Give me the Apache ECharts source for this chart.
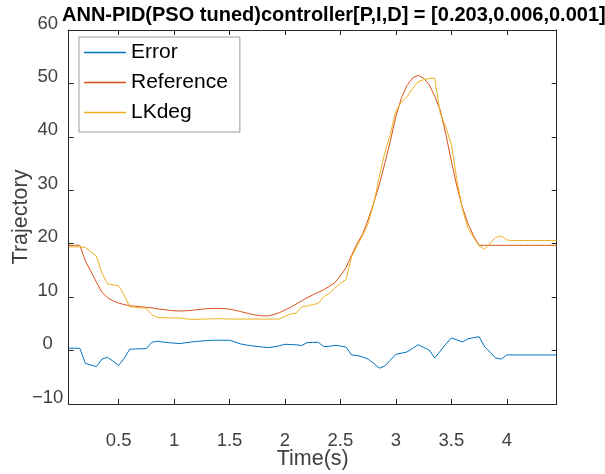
<!DOCTYPE html>
<html>
<head>
<meta charset="utf-8">
<script src="https://cdn.jsdelivr.net/npm/echarts@6/dist/echarts.min.js"></script>
<style>
  html, body { margin: 0; padding: 0; background: #fff; }
  #chart { width: 605px; height: 474px; }
</style>
</head>
<body>
<div id="chart"></div>
<script>
// Simulation time stamps (s)
var time = [
  0.05, 0.10, 0.15, 0.20, 0.25, 0.30, 0.35, 0.40, 0.45, 0.50,
  0.55, 0.60, 0.65, 0.70, 0.75, 0.80, 0.85, 0.90, 0.95, 1.00,
  1.05, 1.10, 1.15, 1.20, 1.25, 1.30, 1.35, 1.40, 1.45, 1.50,
  1.55, 1.60, 1.65, 1.70, 1.75, 1.80, 1.85, 1.90, 1.95, 2.00,
  2.05, 2.10, 2.15, 2.20, 2.25, 2.30, 2.35, 2.40, 2.45, 2.50,
  2.55, 2.60, 2.65, 2.70, 2.75, 2.80, 2.85, 2.90, 2.95, 3.00,
  3.05, 3.10, 3.15, 3.20, 3.25, 3.30, 3.35, 3.40, 3.45, 3.50,
  3.55, 3.60, 3.65, 3.70, 3.75, 3.80, 3.85, 3.90, 3.95, 4.00,
  4.05, 4.10, 4.15, 4.20, 4.25, 4.30, 4.35, 4.40, 4.45
];

// Tracking error
var errorVals = [
  0.43, 0.43, 0.43, -2.4, -2.7, -3.0, -1.6, -1.25, -2.0, -2.8,
  -1.45, 0.25, 0.3, 0.33, 0.36, 1.55, 1.74, 1.6, 1.48, 1.4,
  1.3, 1.45, 1.6, 1.7, 1.8, 1.88, 1.93, 1.93, 1.93, 1.93,
  1.6, 1.24, 1.05, 0.9, 0.78, 0.65, 0.55, 0.7, 0.9, 1.18,
  1.12, 1.08, 0.95, 1.48, 1.52, 1.55, 0.73, 0.8, 0.99, 0.85,
  0.67, -0.82, -0.92, -1.2, -1.6, -2.4, -3.3, -2.9, -1.8, -0.7,
  -0.5, -0.26, 0.4, 1.1, 0.6, 0.1, -1.4, -0.1, 1.2, 2.36,
  2.0, 1.6, 2.2, 2.4, 2.6, 0.73, -0.3, -1.4, -1.6, -0.82,
  -0.82, -0.82, -0.82, -0.82, -0.82, -0.82, -0.82, -0.82, -0.82
];

// Reference trajectory
var referenceVals = [
  19.7, 19.7, 19.7, 16.8, 14.8, 12.8, 10.9, 9.9, 9.3, 8.9,
  8.6, 8.4, 8.3, 8.2, 8.1, 8.0, 7.8, 7.7, 7.55, 7.45,
  7.4, 7.45, 7.5, 7.65, 7.75, 7.85, 7.9, 7.9, 7.85, 7.75,
  7.55, 7.3, 7.05, 6.8, 6.6, 6.5, 6.5, 6.75, 7.1, 7.6,
  8.1, 8.7, 9.3, 9.9, 10.4, 10.9, 11.4, 12.0, 12.7, 14.0,
  15.5, 17.8, 20.0, 21.8, 24.5, 27.6, 31.0, 35.0, 39.2, 43.8,
  47.3, 49.6, 51.0, 51.5, 51.0, 49.8, 47.6, 45.0, 40.5, 35.5,
  30.7, 26.8, 23.8, 21.5, 19.7, 19.7, 19.7, 19.7, 19.7, 19.7,
  19.7, 19.7, 19.7, 19.7, 19.7, 19.7, 19.7, 19.7, 19.7
];

// Controlled output (deg)
var lkdegVals = [
  19.45, 19.4, 19.4, 19.3, 18.5, 17.7, 14.5, 12.5, 12.3, 12.1,
  10.4, 8.2, 8.1, 8.0, 7.9, 6.7, 6.2, 6.15, 6.1, 6.1,
  6.1, 5.95, 5.85, 5.85, 5.9, 5.9, 5.95, 5.97, 5.95, 5.9,
  5.9, 5.9, 5.9, 5.9, 5.9, 5.9, 5.9, 5.9, 5.9, 6.4,
  6.85, 7.0, 8.2, 8.35, 8.6, 8.85, 10.1, 10.7, 11.7, 12.6,
  13.3, 17.5, 19.6, 21.5, 23.8, 27.5, 32.5, 37.0, 40.5, 44.8,
  46.5, 47.5, 49.0, 50.3, 50.7, 50.9, 51.0, 44.4, 41.8, 38.6,
  32.0, 26.5, 22.9, 21.2, 19.6, 19.0, 20.1, 21.2, 21.45, 20.7,
  20.6, 20.6, 20.6, 20.6, 20.6, 20.6, 20.6, 20.6, 20.6
];

// Tick positions
var xTicks = [0.5, 1, 1.5, 2, 2.5, 3, 3.5, 4];
var yTicks = [-10, 0, 10, 20, 30, 40, 50, 60];

var seriesNames = ['Error', 'Reference', 'LKdeg'];
var seriesColors = ['#0072BD', '#D95319', '#EDB120'];
var seriesValues = [errorVals, referenceVals, lkdegVals];

var FONT = '"Liberation Sans", Arial, Helvetica, sans-serif';
var AXIS_COLOR = '#262626';

function pairs(vals) {
  return time.map(function (t, i) { return [t, vals[i]]; });
}

function fmt(v) {
  return String(v).replace('-', '\u2212');
}

var chart = echarts.init(document.getElementById('chart'), null, { renderer: 'canvas' });

var tickCommon = { show: true, inside: true, length: 5, lineStyle: { color: AXIS_COLOR, width: 1 } };
var lineCommon = { show: true, onZero: false, lineStyle: { color: AXIS_COLOR, width: 1 } };

chart.setOption({
  animation: false,
  backgroundColor: '#ffffff',
  title: {
    text: 'ANN-PID(PSO tuned)controller[P,I,D] = [0.203,0.006,0.001]',
    left: 62,
    top: 5,
    padding: 0,
    textStyle: { fontFamily: FONT, fontSize: 20, fontWeight: 'bold', color: '#000000' }
  },
  grid: {
    left: 68.7, right: 48.3, top: 30, bottom: 70,
    containLabel: false, outerBoundsMode: 'none'
  },
  legend: {
    data: seriesNames,
    orient: 'vertical',
    left: 79,
    top: 37,
    padding: [5, 12, 9, 5],
    icon: 'rect',
    itemWidth: 42,
    itemHeight: 1.5,
    itemGap: 9,
    backgroundColor: '#ffffff',
    borderColor: '#9a9a9a',
    borderWidth: 1,
    borderRadius: 0,
    textStyle: { fontFamily: FONT, fontSize: 21, color: '#000000' }
  },
  xAxis: [
    {
      type: 'value', position: 'bottom', min: 0.05, max: 4.45,
      axisLine: lineCommon,
      axisTick: Object.assign({ customValues: xTicks }, tickCommon),
      axisLabel: {
        customValues: xTicks, margin: 27, fontFamily: FONT, fontSize: 18.5, color: '#404040',
        formatter: fmt
      },
      splitLine: { show: false },
      name: 'Time(s)', nameLocation: 'middle', nameGap: 44, nameMoveOverlap: false,
      nameTextStyle: { fontFamily: FONT, fontSize: 21.5, color: '#404040' }
    },
    {
      type: 'value', position: 'top', min: 0.05, max: 4.45,
      axisLine: lineCommon,
      axisTick: Object.assign({ customValues: xTicks }, tickCommon),
      axisLabel: { show: false },
      splitLine: { show: false }
    }
  ],
  yAxis: [
    {
      type: 'value', position: 'left', min: -10, max: 60, interval: 10,
      axisLine: lineCommon,
      axisTick: Object.assign({ customValues: yTicks }, tickCommon),
      axisLabel: {
        customValues: yTicks, margin: 21, align: 'center', verticalAlign: 'bottom', lineHeight: 13,
        fontFamily: FONT, fontSize: 18.5, color: '#404040', formatter: fmt
      },
      splitLine: { show: false },
      name: 'Trajectory', nameLocation: 'middle', nameGap: 37, nameRotate: 90, nameMoveOverlap: false,
      nameTextStyle: { fontFamily: FONT, fontSize: 21.5, color: '#404040' }
    },
    {
      type: 'value', position: 'right', min: -10, max: 60, interval: 10,
      axisLine: lineCommon,
      axisTick: Object.assign({ customValues: yTicks }, tickCommon),
      axisLabel: { show: false },
      splitLine: { show: false }
    }
  ],
  series: seriesNames.map(function (name, k) {
    return {
      name: name,
      type: 'line',
      xAxisIndex: 0,
      yAxisIndex: 0,
      data: pairs(seriesValues[k]),
      symbol: 'none',
      showSymbol: false,
      color: seriesColors[k],
      lineStyle: { color: seriesColors[k], width: 1 },
      z: 2 + k
    };
  })
});
</script>
</body>
</html>
